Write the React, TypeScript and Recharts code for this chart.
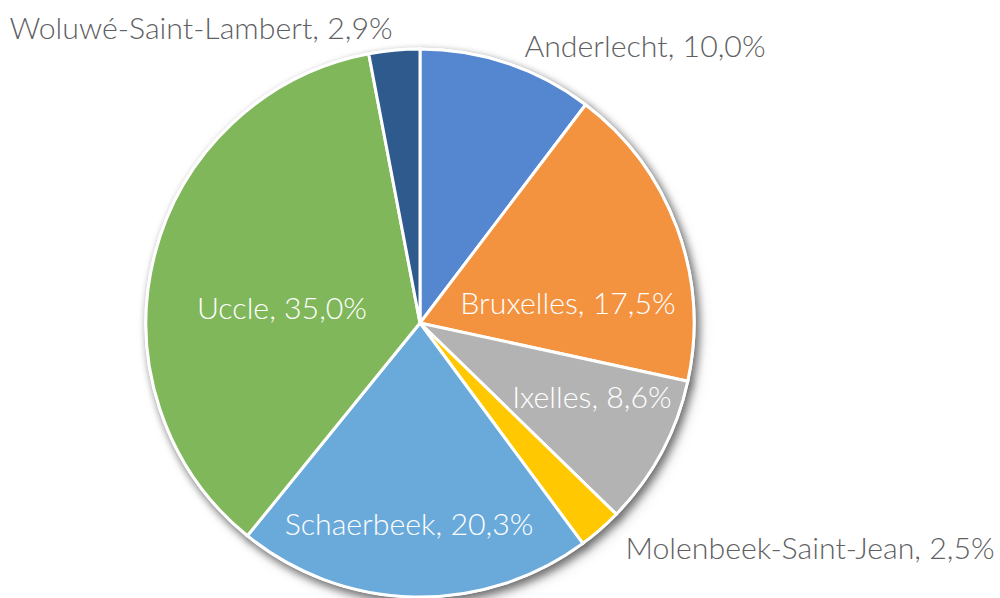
import { Cell, Pie, PieChart } from "recharts";

document.body.style.margin = "0";

const COMMUNES = [
  "Anderlecht",
  "Bruxelles",
  "Ixelles",
  "Molenbeek-Saint-Jean",
  "Schaerbeek",
  "Uccle",
  "Woluwé-Saint-Lambert",
];
const SHARES = [10.0, 17.5, 8.6, 2.5, 20.3, 35.0, 2.9];

const COLORS = [
  "#5586D0",
  "#F3923F",
  "#B3B3B3",
  "#FFC800",
  "#6AAADB",
  "#80B75A",
  "#2E5A8E",
];
// labels that Excel drew outside the pie get the grey text
const OUTSIDE = [true, false, false, true, false, false, true];
// label anchor (text centre, baseline) relative to pie centre
const LABEL_OFFSETS: [number, number][] = [
  [225, -266],
  [148, -9],
  [172, 85],
  [390, 236],
  [-11, 212],
  [-138, -4],
  [-219, -284],
];

const FONT = "Lato, 'Noto Sans', sans-serif";

const data = COMMUNES.map((name, i) => ({ name, value: SHARES[i] }));

const fmt = (v: number) => v.toFixed(1).replace(".", ",") + "%";

const renderLabel = function renderLabel(props: any) {
  const { cx, cy, index, name, value } = props;
  const [dx, dy] = LABEL_OFFSETS[index];
  return (
    <text
      x={Number(cx) + dx}
      y={Number(cy) + dy}
      textAnchor="middle"
      fill={OUTSIDE[index] ? "#5f5f64" : "#FFFFFF"}
      fontFamily={FONT}
      fontWeight={300}
      fontSize={30.3}
    >
      {`${name}, ${fmt(value)}`}
    </text>
  );
};

export default function App() {
  return (
    <div style={{ width: 1000, height: 598, background: "#fff" }}>
      <style>{`.pie-shadow { filter: drop-shadow(3px 4px 4px rgba(0,0,0,0.35)); }`}</style>
      <PieChart width={1000} height={598} margin={{ top: 0, right: 0, bottom: 0, left: 0 }}>
        <Pie
          className="pie-shadow"
          data={data}
          dataKey="value"
          nameKey="name"
          cx={420}
          cy={323}
          outerRadius={274}
          startAngle={90}
          endAngle={-270}
          fill="#ffffff"
          stroke="#ffffff"
          strokeWidth={3}
          isAnimationActive={false}
          label={false}
          labelLine={false}
        />
        <Pie
          data={data}
          dataKey="value"
          nameKey="name"
          cx={420}
          cy={323}
          outerRadius={274}
          startAngle={90}
          endAngle={-270}
          stroke="#ffffff"
          strokeWidth={3}
          isAnimationActive={false}
          label={renderLabel}
          labelLine={false}
        >
          {data.map((d, i) => (
            <Cell key={d.name} fill={COLORS[i]} />
          ))}
        </Pie>
      </PieChart>
    </div>
  );
}
